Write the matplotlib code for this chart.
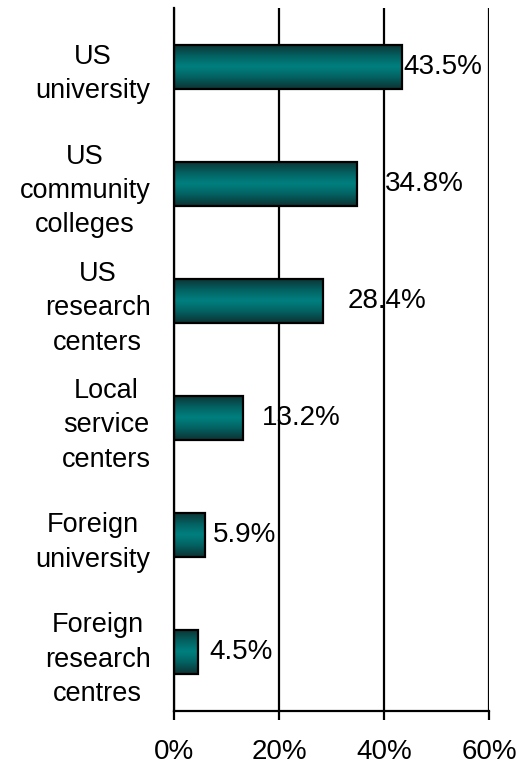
import numpy as np
import matplotlib
matplotlib.use("Agg")
import matplotlib.pyplot as plt
from matplotlib.colors import LinearSegmentedColormap

categories = ["US\nuniversity", "US\ncommunity\ncolleges", "US\nresearch\ncenters",
              "Local\nservice\ncenters", "Foreign\nuniversity", "Foreign\nresearch\ncentres"]
values = [43.5, 34.8, 28.4, 13.2, 5.9, 4.5]
value_labels = ["43.5%", "34.8%", "28.4%", "13.2%", "5.9%", "4.5%"]
tick_values = [0, 20, 40, 60]
tick_labels = ["0%", "20%", "40%", "60%"]
# label horizontal offsets (points) as in the original layout
label_offsets = [1.0, 20, 18.0, 13.5, 5.5, 8.4]

plt.rcParams['font.family'] = ['Liberation Sans', 'DejaVu Sans']

fig = plt.figure(figsize=(5.17, 7.68), dpi=100)
ax = fig.add_axes([0.3366, 0.0742, 0.6092, 0.9154])

cmap = LinearSegmentedColormap.from_list(
    "teal", [(0.0, "#0d3333"), (0.25, "#046060"), (0.5, "#008080"),
             (0.75, "#046060"), (1.0, "#0d3333")])
grad = np.linspace(0, 1, 64).reshape(-1, 1)

h = 0.376
ypos = np.arange(len(values))
bars = ax.barh(ypos, values, height=h, color="none", edgecolor="black",
               linewidth=1.6, zorder=3)
for b in bars:
    x0, y0 = b.get_x(), b.get_y()
    w, hh = b.get_width(), b.get_height()
    im = ax.imshow(grad, cmap=cmap, aspect="auto", extent=[x0, x0 + w, y0 + hh, y0],
                   zorder=2, interpolation="bilinear")
    im.set_clip_path(b)

for y, v, lab, off in zip(ypos, values, value_labels, label_offsets):
    ax.annotate(lab, xy=(v, y), xytext=(off, 0), textcoords="offset points",
                ha="left", va="center", fontsize=20, color="black", zorder=5)

ax.set_xlim(0, 60)
ax.set_ylim(len(values) - 0.5, -0.5)
ax.set_xticks(tick_values)
ax.set_xticklabels(tick_labels, fontsize=20)
ax.set_yticks(ypos)
ax.set_yticklabels(categories, fontsize=19.5, multialignment="center", linespacing=1.42)
ax.tick_params(axis="y", length=0, pad=17)
ax.tick_params(axis="x", length=6.5, width=1.6, direction="out", pad=14)
ax.grid(axis="x", color="black", linewidth=1.6, zorder=1)
ax.set_axisbelow(True)
for s in ["top", "right"]:
    ax.spines[s].set_visible(False)
for s in ["left", "bottom"]:
    ax.spines[s].set_linewidth(1.6)

fig.savefig("out.png", dpi=100)
